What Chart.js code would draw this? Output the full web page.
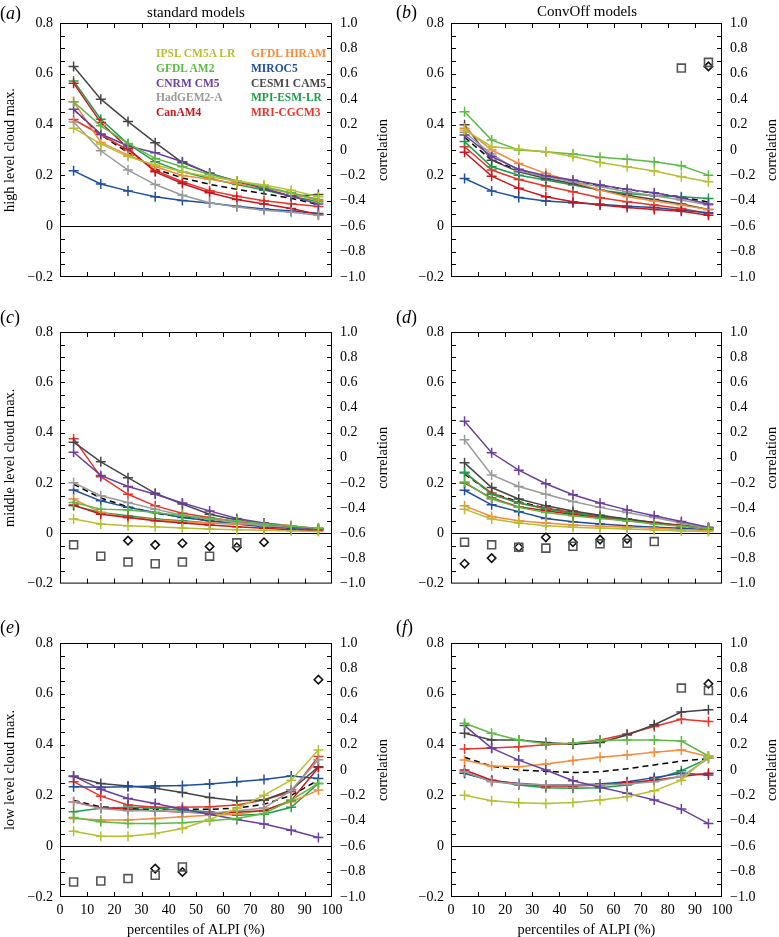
<!DOCTYPE html>
<html>
<head>
<meta charset="utf-8">
<script src="https://cdn.jsdelivr.net/npm/chart.js@4.4.0/dist/chart.umd.min.js"></script>
<style>
  body { margin: 0; width: 779px; height: 937px; background: #fff; position: relative; overflow: hidden;
         font-family: "Liberation Serif", "DejaVu Serif", serif; color: #000; }
  canvas { position: absolute; }
  .txt { position: absolute; white-space: nowrap; }
  .letter { font-size: 18px; line-height: 18px; }
  .head { font-size: 15px; line-height: 15px; transform: translateX(-50%); }
  .leg { font-size: 11.5px; line-height: 12px; font-weight: bold; }
</style>
</head>
<body>
<canvas id="pa" width="390" height="300" style="left:0;top:0"></canvas>
<canvas id="pb" width="389" height="300" style="left:390px;top:0"></canvas>
<canvas id="pc" width="390" height="300" style="left:0;top:300px"></canvas>
<canvas id="pd" width="389" height="300" style="left:390px;top:300px"></canvas>
<canvas id="pe" width="390" height="327" style="left:0;top:610px"></canvas>
<canvas id="pf" width="389" height="327" style="left:390px;top:610px"></canvas>

<div class="txt letter" style="left:0;top:4px">(<i>a</i>)</div>
<div class="txt letter" style="left:396px;top:3px">(<i>b</i>)</div>
<div class="txt letter" style="left:0;top:308px">(<i>c</i>)</div>
<div class="txt letter" style="left:396px;top:308px">(<i>d</i>)</div>
<div class="txt letter" style="left:0;top:618px">(<i>e</i>)</div>
<div class="txt letter" style="left:396px;top:618px">(<i>f</i>)</div>
<div class="txt head" style="left:196px;top:5px">standard models</div>
<div class="txt head" style="left:587px;top:4px">ConvOff models</div>
<div id="legend"></div>

<script>
const PCT = [5, 15, 25, 35, 45, 55, 65, 75, 85, 95];
const X_TICKS = [0, 10, 20, 30, 40, 50, 60, 70, 80, 90, 100];
const LEFT_TICKS = [-0.2, 0, 0.2, 0.4, 0.6, 0.8];
const RIGHT_TICKS = [-1.0, -0.8, -0.6, -0.4, -0.2, 0, 0.2, 0.4, 0.6, 0.8, 1.0];

const MODELS = ['IPSL CM5A LR', 'GFDL AM2', 'CNRM CM5', 'HadGEM2-A', 'CanAM4',
  'GFDL HIRAM', 'MIROC5', 'CESM1 CAM5', 'MPI-ESM-LR', 'MRI-CGCM3'];
const COLORS = ['#b7bf33', '#5cbb45', '#6a3f9e', '#9a9a9a', '#c8171f',
  '#f58b3b', '#1f4e9c', '#454545', '#1f9c4a', '#e8352b'];

// (a) high level, standard models
const HIGH_STD = [
  [0.386, 0.324, 0.274, 0.241, 0.214, 0.195, 0.178, 0.162, 0.142, 0.116],
  [0.49, 0.395, 0.326, 0.267, 0.234, 0.204, 0.178, 0.155, 0.132, 0.105],
  [0.46, 0.363, 0.316, 0.289, 0.254, 0.208, 0.178, 0.149, 0.118, 0.087],
  [0.41, 0.297, 0.221, 0.164, 0.122, 0.092, 0.076, 0.063, 0.055, 0.043],
  [0.563, 0.408, 0.307, 0.214, 0.168, 0.132, 0.105, 0.087, 0.07, 0.046],
  [0.49, 0.33, 0.28, 0.235, 0.2, 0.185, 0.168, 0.15, 0.13, 0.1],
  [0.218, 0.166, 0.139, 0.116, 0.101, 0.091, 0.079, 0.068, 0.06, 0.05],
  [0.629, 0.50, 0.412, 0.329, 0.25, 0.208, 0.175, 0.146, 0.118, 0.125],
  [0.572, 0.421, 0.324, 0.254, 0.214, 0.188, 0.164, 0.142, 0.118, 0.096],
  [0.42, 0.36, 0.30, 0.22, 0.175, 0.14, 0.118, 0.1, 0.088, 0.078]
];
const HIGH_STD_MEAN = [0.46, 0.36, 0.29, 0.225, 0.19, 0.165, 0.145, 0.128, 0.11, 0.085];

// (b) high level, ConvOff models
const HIGH_OFF = [
  [0.379, 0.313, 0.303, 0.293, 0.274, 0.251, 0.234, 0.217, 0.195, 0.175],
  [0.451, 0.339, 0.30, 0.293, 0.284, 0.271, 0.264, 0.254, 0.238, 0.201],
  [0.359, 0.274, 0.224, 0.199, 0.182, 0.162, 0.145, 0.132, 0.112, 0.087],
  [0.37, 0.284, 0.218, 0.195, 0.175, 0.155, 0.136, 0.12, 0.103, 0.083],
  [0.291, 0.197, 0.149, 0.116, 0.096, 0.083, 0.074, 0.066, 0.059, 0.043],
  [0.386, 0.30, 0.247, 0.208, 0.175, 0.142, 0.116, 0.099, 0.083, 0.066],
  [0.188, 0.139, 0.113, 0.099, 0.092, 0.086, 0.079, 0.074, 0.063, 0.053],
  [0.399, 0.26, 0.214, 0.188, 0.168, 0.142, 0.122, 0.105, 0.087, 0.066],
  [0.333, 0.234, 0.201, 0.182, 0.162, 0.142, 0.129, 0.12, 0.116, 0.109],
  [0.313, 0.221, 0.184, 0.158, 0.136, 0.112, 0.096, 0.083, 0.07, 0.05]
];
const HIGH_OFF_MEAN = [0.35, 0.26, 0.22, 0.195, 0.18, 0.16, 0.145, 0.13, 0.115, 0.095];
const HIGH_OFF_SQUARES = [null, null, null, null, null, null, null, null, 0.645, 0.69];
const HIGH_OFF_DIAMONDS = [null, null, null, null, null, null, null, null, null, 0.658];

// (c) middle level, standard models
const MID_STD = [
  [0.057, 0.037, 0.03, 0.026, 0.021, 0.017, 0.014, 0.012, 0.009, 0.007],
  [0.122, 0.096, 0.093, 0.083, 0.07, 0.059, 0.05, 0.037, 0.028, 0.02],
  [0.322, 0.23, 0.186, 0.155, 0.12, 0.089, 0.059, 0.041, 0.026, 0.017],
  [0.201, 0.149, 0.122, 0.096, 0.072, 0.057, 0.041, 0.03, 0.024, 0.017],
  [0.112, 0.076, 0.063, 0.05, 0.041, 0.033, 0.026, 0.02, 0.014, 0.011],
  [0.136, 0.083, 0.063, 0.054, 0.046, 0.041, 0.037, 0.04, 0.03, 0.017],
  [0.172, 0.129, 0.103, 0.083, 0.063, 0.05, 0.037, 0.026, 0.02, 0.014],
  [0.362, 0.284, 0.221, 0.159, 0.116, 0.076, 0.053, 0.037, 0.024, 0.017],
  [0.109, 0.083, 0.07, 0.057, 0.05, 0.041, 0.037, 0.03, 0.024, 0.02],
  [0.376, 0.225, 0.155, 0.109, 0.08, 0.063, 0.046, 0.041, 0.03, 0.017]
];
const MID_STD_MEAN = [0.195, 0.14, 0.105, 0.08, 0.065, 0.05, 0.04, 0.03, 0.02, 0.012];
const MID_STD_SQUARES = [-0.692, -0.782, -0.829, -0.842, -0.829, -0.782, -0.676, null, null, null];
const MID_STD_DIAMONDS = [null, null, -0.658, -0.692, -0.679, -0.705, -0.711, -0.671, null, null];

// (d) middle level, ConvOff models
const MID_OFF = [
  [0.096, 0.057, 0.041, 0.03, 0.024, 0.02, 0.017, 0.013, 0.009, 0.007],
  [0.204, 0.136, 0.103, 0.083, 0.07, 0.059, 0.05, 0.037, 0.028, 0.02],
  [0.445, 0.32, 0.251, 0.197, 0.153, 0.12, 0.093, 0.07, 0.047, 0.024],
  [0.372, 0.232, 0.186, 0.155, 0.126, 0.103, 0.083, 0.063, 0.041, 0.02],
  [0.2, 0.14, 0.105, 0.09, 0.075, 0.062, 0.05, 0.04, 0.03, 0.02],
  [0.109, 0.067, 0.05, 0.041, 0.033, 0.028, 0.024, 0.02, 0.014, 0.011],
  [0.171, 0.113, 0.086, 0.059, 0.046, 0.037, 0.03, 0.024, 0.02, 0.014],
  [0.28, 0.182, 0.136, 0.109, 0.089, 0.072, 0.057, 0.043, 0.03, 0.02],
  [0.243, 0.155, 0.12, 0.096, 0.08, 0.067, 0.054, 0.041, 0.03, 0.02],
  [0.24, 0.16, 0.12, 0.1, 0.083, 0.068, 0.055, 0.043, 0.032, 0.02]
];
const MID_OFF_MEAN = [0.235, 0.16, 0.125, 0.1, 0.083, 0.07, 0.055, 0.042, 0.03, 0.02];
const MID_OFF_SQUARES = [-0.671, -0.692, -0.711, -0.718, -0.703, -0.684, -0.679, -0.666, null, null];
const MID_OFF_DIAMONDS = [-0.842, -0.797, -0.711, -0.632, -0.671, -0.65, -0.645, null, null, null];

// (e) low level, standard models
const LOW_STD = [
  [0.059, 0.039, 0.039, 0.05, 0.07, 0.105, 0.149, 0.201, 0.26, 0.379],
  [0.113, 0.096, 0.089, 0.089, 0.092, 0.1, 0.109, 0.129, 0.182, 0.247],
  [0.276, 0.224, 0.188, 0.168, 0.146, 0.126, 0.105, 0.087, 0.063, 0.034],
  [0.175, 0.148, 0.14, 0.14, 0.135, 0.13, 0.14, 0.15, 0.22, 0.34],
  [0.175, 0.15, 0.145, 0.14, 0.135, 0.13, 0.135, 0.14, 0.18, 0.31],
  [0.109, 0.103, 0.103, 0.109, 0.116, 0.122, 0.126, 0.142, 0.175, 0.221],
  [0.234, 0.232, 0.234, 0.237, 0.239, 0.245, 0.254, 0.263, 0.276, 0.267],
  [0.274, 0.247, 0.237, 0.228, 0.211, 0.192, 0.179, 0.182, 0.221, 0.313],
  [0.136, 0.149, 0.153, 0.149, 0.142, 0.136, 0.122, 0.126, 0.153, 0.247],
  [0.254, 0.197, 0.162, 0.153, 0.153, 0.155, 0.162, 0.182, 0.214, 0.353]
];
const LOW_STD_MEAN = [0.18, 0.155, 0.148, 0.145, 0.145, 0.145, 0.15, 0.165, 0.2, 0.26];
const LOW_STD_SQUARES = [-0.882, -0.874, -0.855, -0.829, -0.763, null, null, null, null, null];
const LOW_STD_DIAMONDS = [null, null, null, -0.776, -0.803, null, null, null, null, 0.711];

// (f) low level, ConvOff models
const LOW_OFF = [
  [0.201, 0.179, 0.171, 0.168, 0.172, 0.182, 0.195, 0.218, 0.26, 0.355],
  [0.484, 0.445, 0.418, 0.403, 0.405, 0.416, 0.418, 0.418, 0.414, 0.355],
  [0.475, 0.386, 0.339, 0.3, 0.258, 0.232, 0.208, 0.182, 0.146, 0.089],
  [0.293, 0.254, 0.245, 0.241, 0.241, 0.241, 0.245, 0.254, 0.274, 0.346],
  [0.3, 0.26, 0.245, 0.237, 0.237, 0.241, 0.25, 0.26, 0.274, 0.287],
  [0.339, 0.316, 0.313, 0.324, 0.337, 0.35, 0.359, 0.37, 0.379, 0.353],
  [0.287, 0.258, 0.247, 0.241, 0.241, 0.245, 0.254, 0.27, 0.287, 0.28],
  [0.445, 0.418, 0.418, 0.408, 0.401, 0.408, 0.438, 0.478, 0.528, 0.537],
  [0.287, 0.258, 0.241, 0.23, 0.228, 0.23, 0.241, 0.263, 0.297, 0.346],
  [0.383, 0.387, 0.392, 0.399, 0.405, 0.418, 0.442, 0.471, 0.5, 0.491]
];
const LOW_OFF_MEAN = [0.35, 0.315, 0.3, 0.295, 0.29, 0.293, 0.305, 0.32, 0.335, 0.345];
const LOW_OFF_SQUARES = [null, null, null, null, null, null, null, null, 0.645, 0.626];
const LOW_OFF_DIAMONDS = [null, null, null, null, null, null, null, null, null, 0.679];

const SERIF = '"Liberation Serif", "DejaVu Serif", serif';
const tickFont = { family: SERIF, size: 14 };
const titleFont = { family: SERIF, size: 14.3, lineHeight: 1 };

function fmt(v) {
  if (Math.abs(v) < 1e-9) return '0';
  return v.toFixed(1).replace('-', '\u2212');
}

function points(values) {
  return PCT.map((x, i) => ({ x, y: values[i] }));
}

// box round the plot, inward tick marks and the right axis title
const framePlugin = {
  id: 'frame',
  afterDraw(chart) {
    const { ctx, chartArea: a, scales } = chart;
    ctx.save();
    ctx.strokeStyle = '#000';
    ctx.lineWidth = 1;
    ctx.strokeRect(a.left + 0.5, a.top + 0.5, a.right - a.left - 1, a.bottom - a.top - 1);
    ctx.beginPath();
    X_TICKS.slice(1, -1).forEach((v) => {
      const px = Math.round(scales.x.getPixelForValue(v)) + 0.5;
      ctx.moveTo(px, a.top); ctx.lineTo(px, a.top + 5);
      ctx.moveTo(px, a.bottom); ctx.lineTo(px, a.bottom - 5);
    });
    for (let k = 1; k < 20; k++) {
      const yl = Math.round(scales.y.getPixelForValue(-0.2 + k * 0.05)) + 0.5;
      ctx.moveTo(a.left, yl); ctx.lineTo(a.left + 5, yl);
      const yr = Math.round(scales.y2.getPixelForValue(-1 + k * 0.1)) + 0.5;
      ctx.moveTo(a.right, yr); ctx.lineTo(a.right - 5, yr);
    }
    ctx.stroke();

    ctx.translate(chart.width - 7, (a.top + a.bottom) / 2);
    ctx.rotate(-Math.PI / 2);
    ctx.fillStyle = '#000';
    ctx.font = '14.3px ' + SERIF;
    ctx.textAlign = 'center';
    ctx.textBaseline = 'middle';
    ctx.fillText('correlation', 0, 0);
    ctx.restore();
  }
};

function panelDatasets(series, mean, squares, diamonds) {
  const sets = series.map((vals, i) => ({
    label: MODELS[i],
    data: points(vals),
    borderColor: COLORS[i],
    backgroundColor: COLORS[i],
    borderWidth: 1.5,
    pointStyle: 'cross',
    pointRadius: 5,
    pointBorderWidth: 1.5,
    yAxisID: 'y'
  }));
  sets.push({
    label: 'mean', data: points(mean), borderColor: '#000', borderWidth: 1.5,
    borderDash: [6, 4], pointRadius: 0, yAxisID: 'y'
  });
  if (squares) {
    sets.push({
      label: 'corr squares', data: points(squares), showLine: false, pointStyle: 'rect',
      pointRadius: 5.6, pointBorderWidth: 1.6, borderColor: '#555', backgroundColor: 'rgba(0,0,0,0)', yAxisID: 'y2'
    });
  }
  if (diamonds) {
    sets.push({
      label: 'corr diamonds', data: points(diamonds), showLine: false, pointStyle: 'rectRot',
      pointRadius: 4.2, pointBorderWidth: 1.6, borderColor: '#111', backgroundColor: 'rgba(0,0,0,0)', yAxisID: 'y2'
    });
  }
  return sets;
}

function makePanel(id, cfg) {
  new Chart(document.getElementById(id), {
    type: 'line',
    data: { datasets: panelDatasets(cfg.series, cfg.mean, cfg.squares, cfg.diamonds) },
    options: {
      responsive: false,
      animation: false,
      layout: { padding: { top: cfg.top, left: 0, right: 0, bottom: 0 } },
      plugins: { legend: { display: false }, tooltip: { enabled: false } },
      scales: {
        x: {
          type: 'linear', min: 0, max: 100,
          afterBuildTicks: (s) => { s.ticks = X_TICKS.map((value) => ({ value })); },
          afterFit: (s) => { s.height = cfg.xHeight; },
          grid: { display: false, drawTicks: false },
          border: { display: false },
          ticks: { display: cfg.xLabels, padding: 5, font: tickFont, color: '#000', maxRotation: 0, autoSkip: false,
                   callback: (v) => String(v) },
          title: { display: cfg.xLabels, text: 'percentiles of ALPI (%)', font: titleFont, color: '#000', padding: 0 }
        },
        y: {
          position: 'left', min: -0.2, max: 0.8,
          afterBuildTicks: (s) => { s.ticks = LEFT_TICKS.map((value) => ({ value })); },
          afterFit: (s) => { s.width = cfg.leftWidth; },
          grid: {
            drawTicks: false, lineWidth: 1,
            color: (c) => (c.tick && Math.abs(c.tick.value) < 1e-9 ? '#000' : 'rgba(0,0,0,0)')
          },
          border: { display: false },
          ticks: { padding: 7, font: tickFont, color: '#000', callback: fmt },
          title: { display: !!cfg.leftTitle, text: cfg.leftTitle, font: titleFont, color: '#000', padding: { top: 3 } }
        },
        y2: {
          position: 'right', min: -1, max: 1,
          afterBuildTicks: (s) => { s.ticks = RIGHT_TICKS.map((value) => ({ value })); },
          afterFit: (s) => { s.width = cfg.rightWidth; },
          grid: { display: false, drawTicks: false },
          border: { display: false },
          ticks: { padding: 8, font: tickFont, color: '#000', callback: fmt }
        }
      }
    },
    plugins: [framePlugin]
  });
}

const LEFT_COL = { leftWidth: 60, rightWidth: 58 };
const RIGHT_COL = { leftWidth: 61, rightWidth: 57 };

makePanel('pa', { ...LEFT_COL, top: 23, xHeight: 23, xLabels: false, leftTitle: 'high level cloud max.',
  series: HIGH_STD, mean: HIGH_STD_MEAN });
makePanel('pb', { ...RIGHT_COL, top: 23, xHeight: 23, xLabels: false,
  series: HIGH_OFF, mean: HIGH_OFF_MEAN, squares: HIGH_OFF_SQUARES, diamonds: HIGH_OFF_DIAMONDS });
makePanel('pc', { ...LEFT_COL, top: 32, xHeight: 15, xLabels: false, leftTitle: 'middle level cloud max.',
  series: MID_STD, mean: MID_STD_MEAN, squares: MID_STD_SQUARES, diamonds: MID_STD_DIAMONDS });
makePanel('pd', { ...RIGHT_COL, top: 32, xHeight: 15, xLabels: false,
  series: MID_OFF, mean: MID_OFF_MEAN, squares: MID_OFF_SQUARES, diamonds: MID_OFF_DIAMONDS });
makePanel('pe', { ...LEFT_COL, top: 33, xHeight: 40, xLabels: true, leftTitle: 'low level cloud max.',
  series: LOW_STD, mean: LOW_STD_MEAN, squares: LOW_STD_SQUARES, diamonds: LOW_STD_DIAMONDS });
makePanel('pf', { ...RIGHT_COL, top: 33, xHeight: 40, xLabels: true,
  series: LOW_OFF, mean: LOW_OFF_MEAN, squares: LOW_OFF_SQUARES, diamonds: LOW_OFF_DIAMONDS });

// legend of panel (a): two columns of coloured model names
const LEGEND_ORDER = [0, 5, 1, 6, 2, 7, 3, 8, 4, 9];
const legend = document.getElementById('legend');
LEGEND_ORDER.forEach((m, k) => {
  const el = document.createElement('div');
  el.className = 'txt leg';
  el.textContent = MODELS[m];
  el.style.color = COLORS[m];
  el.style.left = (k % 2 === 0 ? 156 : 251) + 'px';
  el.style.top = (47 + Math.floor(k / 2) * 14.8) + 'px';
  legend.appendChild(el);
});
</script>
</body>
</html>
